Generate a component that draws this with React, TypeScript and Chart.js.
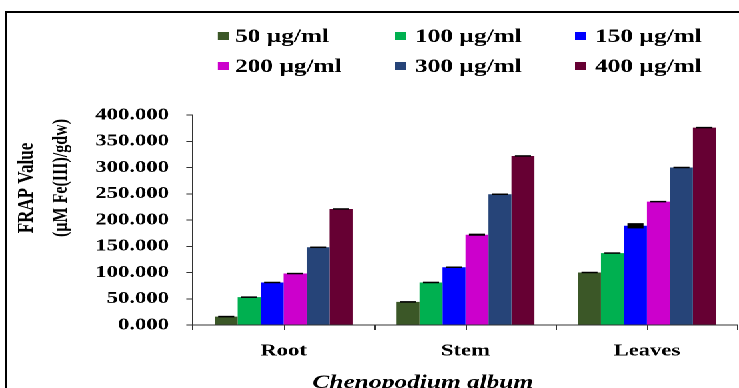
import React, { useEffect, useRef } from "react";
import { Chart, registerables } from "chart.js";

Chart.register(...registerables);

const categories = ["Root", "Stem", "Leaves"];
const seriesLabels = ["50 µg/ml", "100 µg/ml", "150 µg/ml", "200 µg/ml", "300 µg/ml", "400 µg/ml"];
const seriesColors = ["#3B5727", "#00B050", "#0000FF", "#CC00CC", "#264478", "#660033"];
// values per series: [Root, Stem, Leaves]
const conc50 = [16, 44, 100];
const conc100 = [53, 81, 137];
const conc150 = [81, 110, 189];
const conc200 = [98, 172, 235];
const conc300 = [148, 249, 300];
const conc400 = [221, 322, 376];
const err50 = [1.5, 1.5, 1];
const err100 = [1.5, 1.5, 0.8];
const err150 = [0.6, 0.6, 5];
const err200 = [1, 2, 0.8];
const err300 = [0.6, 1, 0.6];
const err400 = [0.6, 0.6, 0.6];
const yTicksMax = 400;
const yTicksStep = 50;
const yTitleLine1 = "FRAP Value";
const yTitleLine2 = "(µM Fe(III)/gdw)";
const xTitle = "Chenopodium album";

const seriesValues = [conc50, conc100, conc150, conc200, conc300, conc400];
const seriesErrors = [err50, err100, err150, err200, err300, err400];

const STRETCH = 739 / 554;
const SERIF = '"Liberation Serif", "Times New Roman", serif';

const decorPlugin = {
  id: "decor",
  afterDatasetsDraw(chart: any) {
    const ctx = chart.ctx;
    const yScale = chart.scales.y;
    ctx.save();
    ctx.fillStyle = "#000";
    chart.data.datasets.forEach((ds: any, i: number) => {
      const meta = chart.getDatasetMeta(i);
      const errs = seriesErrors[i];
      meta.data.forEach((bar: any, j: number) => {
        const v = ds.data[j];
        const e = errs[j];
        const yTop = yScale.getPixelForValue(v + e);
        const yBot = yScale.getPixelForValue(v - e);
        const w = bar.width * 0.7;
        const h = Math.max(1.5, yBot - yTop);
        ctx.fillRect(bar.x - w / 2, (yTop + yBot) / 2 - h / 2, w, h);
      });
    });
    ctx.restore();
  },
  afterDraw(chart: any) {
    const ctx = chart.ctx;
    const xScale = chart.scales.x;
    const area = chart.chartArea;
    ctx.save();
    // frame
    ctx.fillStyle = "#000";
    ctx.fillRect(3.75, 11, chart.width, 2);
    ctx.fillRect(3.75, 11, 1.6, chart.height);
    // center ticks on x axis
    ctx.strokeStyle = "#333";
    ctx.lineWidth = 1;
    categories.forEach((_, i) => {
      const px = Math.round(xScale.getPixelForValue(i)) + 0.5;
      ctx.beginPath();
      ctx.moveTo(px, area.bottom);
      ctx.lineTo(px, area.bottom + 5);
      ctx.stroke();
    });
    // legend (3 columns x 2 rows)
    const colBox = [163.4, 296, 431];
    const colText = [176.2, 311, 446];
    const rowY = [36, 66];
    ctx.font = `bold 19px ${SERIF}`;
    ctx.textBaseline = "middle";
    ctx.textAlign = "left";
    seriesLabels.forEach((lab, i) => {
      const c = i % 3;
      const r = Math.floor(i / 3);
      ctx.fillStyle = seriesColors[i];
      ctx.fillRect(colBox[c], rowY[r] - 4, 8.5, 8);
      ctx.fillStyle = "#000";
      ctx.fillText(lab, colText[c], rowY[r] + 1);
    });
    // y title (rotated, two lines)
    ctx.fillStyle = "#000";
    ctx.textAlign = "center";
    ctx.textBaseline = "alphabetic";
    ctx.save();
    ctx.translate(24.7, 188);
    ctx.rotate(-Math.PI / 2);
    ctx.font = `bold 17px ${SERIF}`;
    ctx.fillText(yTitleLine1, 0, 0);
    ctx.restore();
    ctx.save();
    ctx.translate(50, 178);
    ctx.rotate(-Math.PI / 2);
    ctx.font = `bold 16px ${SERIF}`;
    ctx.fillText(yTitleLine2, 0, 0);
    ctx.restore();
    // x title
    ctx.font = `italic bold 19px ${SERIF}`;
    ctx.textAlign = "center";
    ctx.textBaseline = "alphabetic";
    ctx.fillText(xTitle, 317, 388);
    ctx.restore();
  },
};

export default function App() {
  const canvasRef = useRef<HTMLCanvasElement | null>(null);

  useEffect(() => {
    if (!canvasRef.current) return;
    const tickFont = { family: SERIF, size: 17, weight: "bold" as const };
    const chart = new Chart(canvasRef.current, {
      type: "bar",
      data: {
        labels: categories,
        datasets: seriesLabels.map((lab, i) => ({
          label: lab,
          data: seriesValues[i],
          backgroundColor: seriesColors[i],
          borderWidth: 0,
          categoryPercentage: 0.76,
          barPercentage: 1,
        })),
      },
      options: {
        animation: false,
        responsive: true,
        maintainAspectRatio: false,
        devicePixelRatio: 2,
        layout: { padding: { top: 115, right: 1, left: 0, bottom: 0 } },
        plugins: {
          legend: { display: false },
          tooltip: { enabled: false },
          title: { display: false },
        },
        scales: {
          x: {
            grid: {
              offset: true,
              drawOnChartArea: false,
              drawTicks: true,
              tickLength: 5,
              color: "#333",
            },
            border: { display: true, color: "#333", width: 1 },
            ticks: { font: tickFont, color: "#000", padding: 11 },
            afterFit: (s: any) => {
              s.height = 63;
            },
          },
          y: {
            min: 0,
            max: yTicksMax,
            grid: {
              drawOnChartArea: false,
              drawTicks: true,
              tickLength: 5,
              color: "#333",
            },
            border: { display: true, color: "#333", width: 1 },
            ticks: {
              stepSize: yTicksStep,
              font: tickFont,
              color: "#000",
              padding: 13,
              callback: (v: any) => Number(v).toFixed(3),
            },
            afterFit: (s: any) => {
              s.width = 144.7;
            },
          },
        },
      },
      plugins: [decorPlugin],
    });
    return () => chart.destroy();
  }, []);

  return (
    <div
      style={{
        position: "absolute",
        left: 0,
        top: 0,
        width: 554,
        height: 388,
        transform: `scaleX(${STRETCH})`,
        transformOrigin: "0 0",
        background: "#fff",
      }}
    >
      <canvas ref={canvasRef} />
    </div>
  );
}
